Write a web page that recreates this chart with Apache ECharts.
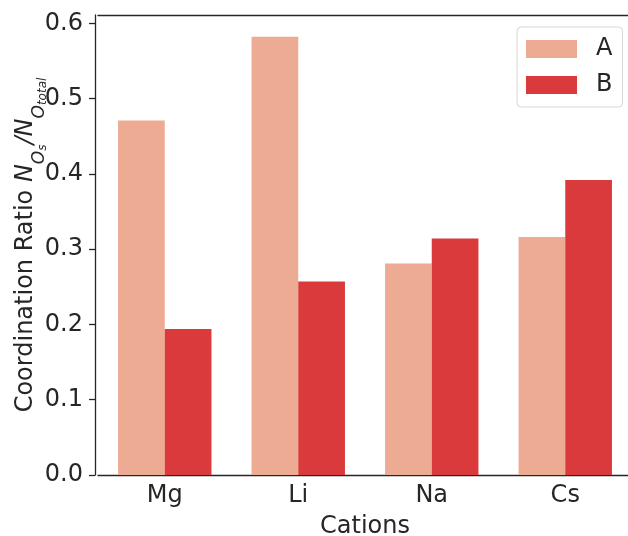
<!DOCTYPE html>
<html>
<head>
<meta charset="utf-8">
<script src="https://cdn.jsdelivr.net/npm/echarts@6/dist/echarts.min.js"></script>
<style>
  html, body { margin: 0; padding: 0; background: #fff; }
  #chart { width: 628px; height: 536px; }
</style>
</head>
<body>
<div id="chart"></div>
<script>
const cations = ['Mg', 'Li', 'Na', 'Cs']
const seriesA = [0.471, 0.582, 0.281, 0.316]
const seriesB = [0.194, 0.257, 0.314, 0.392]
const yTicks = [0, 0.1, 0.2, 0.3, 0.4, 0.5, 0.6]

const ink = '#262626'
const font = 'DejaVu Sans'

const chart = echarts.init(document.getElementById('chart'))

// y label with matplotlib-like mathtext subscripts
const yName = '{t|Coordination Ratio }{n|N}{o|O}{s|s}{n|/N}{o|O}{s|total}'

chart.setOption({
  animation: false,
  textStyle: { fontFamily: font },
  grid: { left: 98, right: -4, top: 15, bottom: 61, outerBoundsMode: 'none', containLabel: false },
  legend: {
    orient: 'vertical',
    left: 517,
    top: 27,
    padding: [10, 10, 10, 9],
    icon: 'rect',
    itemWidth: 51,
    itemHeight: 18,
    itemGap: 12,
    borderColor: '#d6d6d6',
    borderWidth: 1,
    borderRadius: 4,
    textStyle: { fontSize: 24, color: ink, padding: [0, 0, 0, 14], lineHeight: 24 },
    data: ['A', 'B']
  },
  xAxis: [
    {
      type: 'category',
      data: cations,
      name: 'Cations',
      nameLocation: 'middle',
      nameGap: 40,
      nameMoveOverlap: false,
      nameTextStyle: { fontSize: 24, color: ink },
      axisLine: { lineStyle: { color: ink, width: 1.3 } },
      axisTick: { alignWithLabel: true, length: 6, lineStyle: { color: ink, width: 1.3 } },
      axisLabel: { fontSize: 24, color: ink, margin: 9 }
    },
    {
      type: 'category',
      data: cations,
      position: 'top',
      axisLine: { lineStyle: { color: ink, width: 1.3 } },
      axisTick: { show: false },
      axisLabel: { show: false }
    }
  ],
  yAxis: {
    type: 'value',
    min: 0,
    max: 0.611,
    offset: 3,
    splitLine: { show: false },
    name: yName,
    nameLocation: 'middle',
    nameGap: 57,
    nameMoveOverlap: false,
    nameRotate: 90,
    nameTextStyle: {
      rich: {
        t: { fontSize: 24, color: ink, lineHeight: 24, padding: [0, 0, 11, 0], verticalAlign: 'top' },
        n: { fontSize: 24, color: ink, fontStyle: 'italic', lineHeight: 24, padding: [0, 0, 11, 0], verticalAlign: 'top' },
        o: { fontSize: 17, color: ink, fontStyle: 'italic', lineHeight: 17, padding: [17, 0, 0, 0], verticalAlign: 'top' },
        s: { fontSize: 12, color: ink, fontStyle: 'italic', lineHeight: 12, padding: [23, 0, 0, 0], verticalAlign: 'top' }
      }
    },
    axisLine: { show: true, lineStyle: { color: ink, width: 1.3 } },
    axisTick: { show: true, length: 6, customValues: yTicks, lineStyle: { color: ink, width: 1.3 } },
    axisLabel: {
      fontSize: 24,
      color: ink,
      margin: 12,
      customValues: yTicks,
      formatter: v => v.toFixed(1)
    }
  },
  series: [
    {
      name: 'A',
      type: 'bar',
      data: seriesA,
      barWidth: 46.7,
      barGap: '0%',
      itemStyle: { color: '#eeab94' }
    },
    {
      name: 'B',
      type: 'bar',
      data: seriesB,
      barWidth: 46.7,
      barGap: '0%',
      itemStyle: { color: '#da3a3c' }
    }
  ]
})
</script>
</body>
</html>
